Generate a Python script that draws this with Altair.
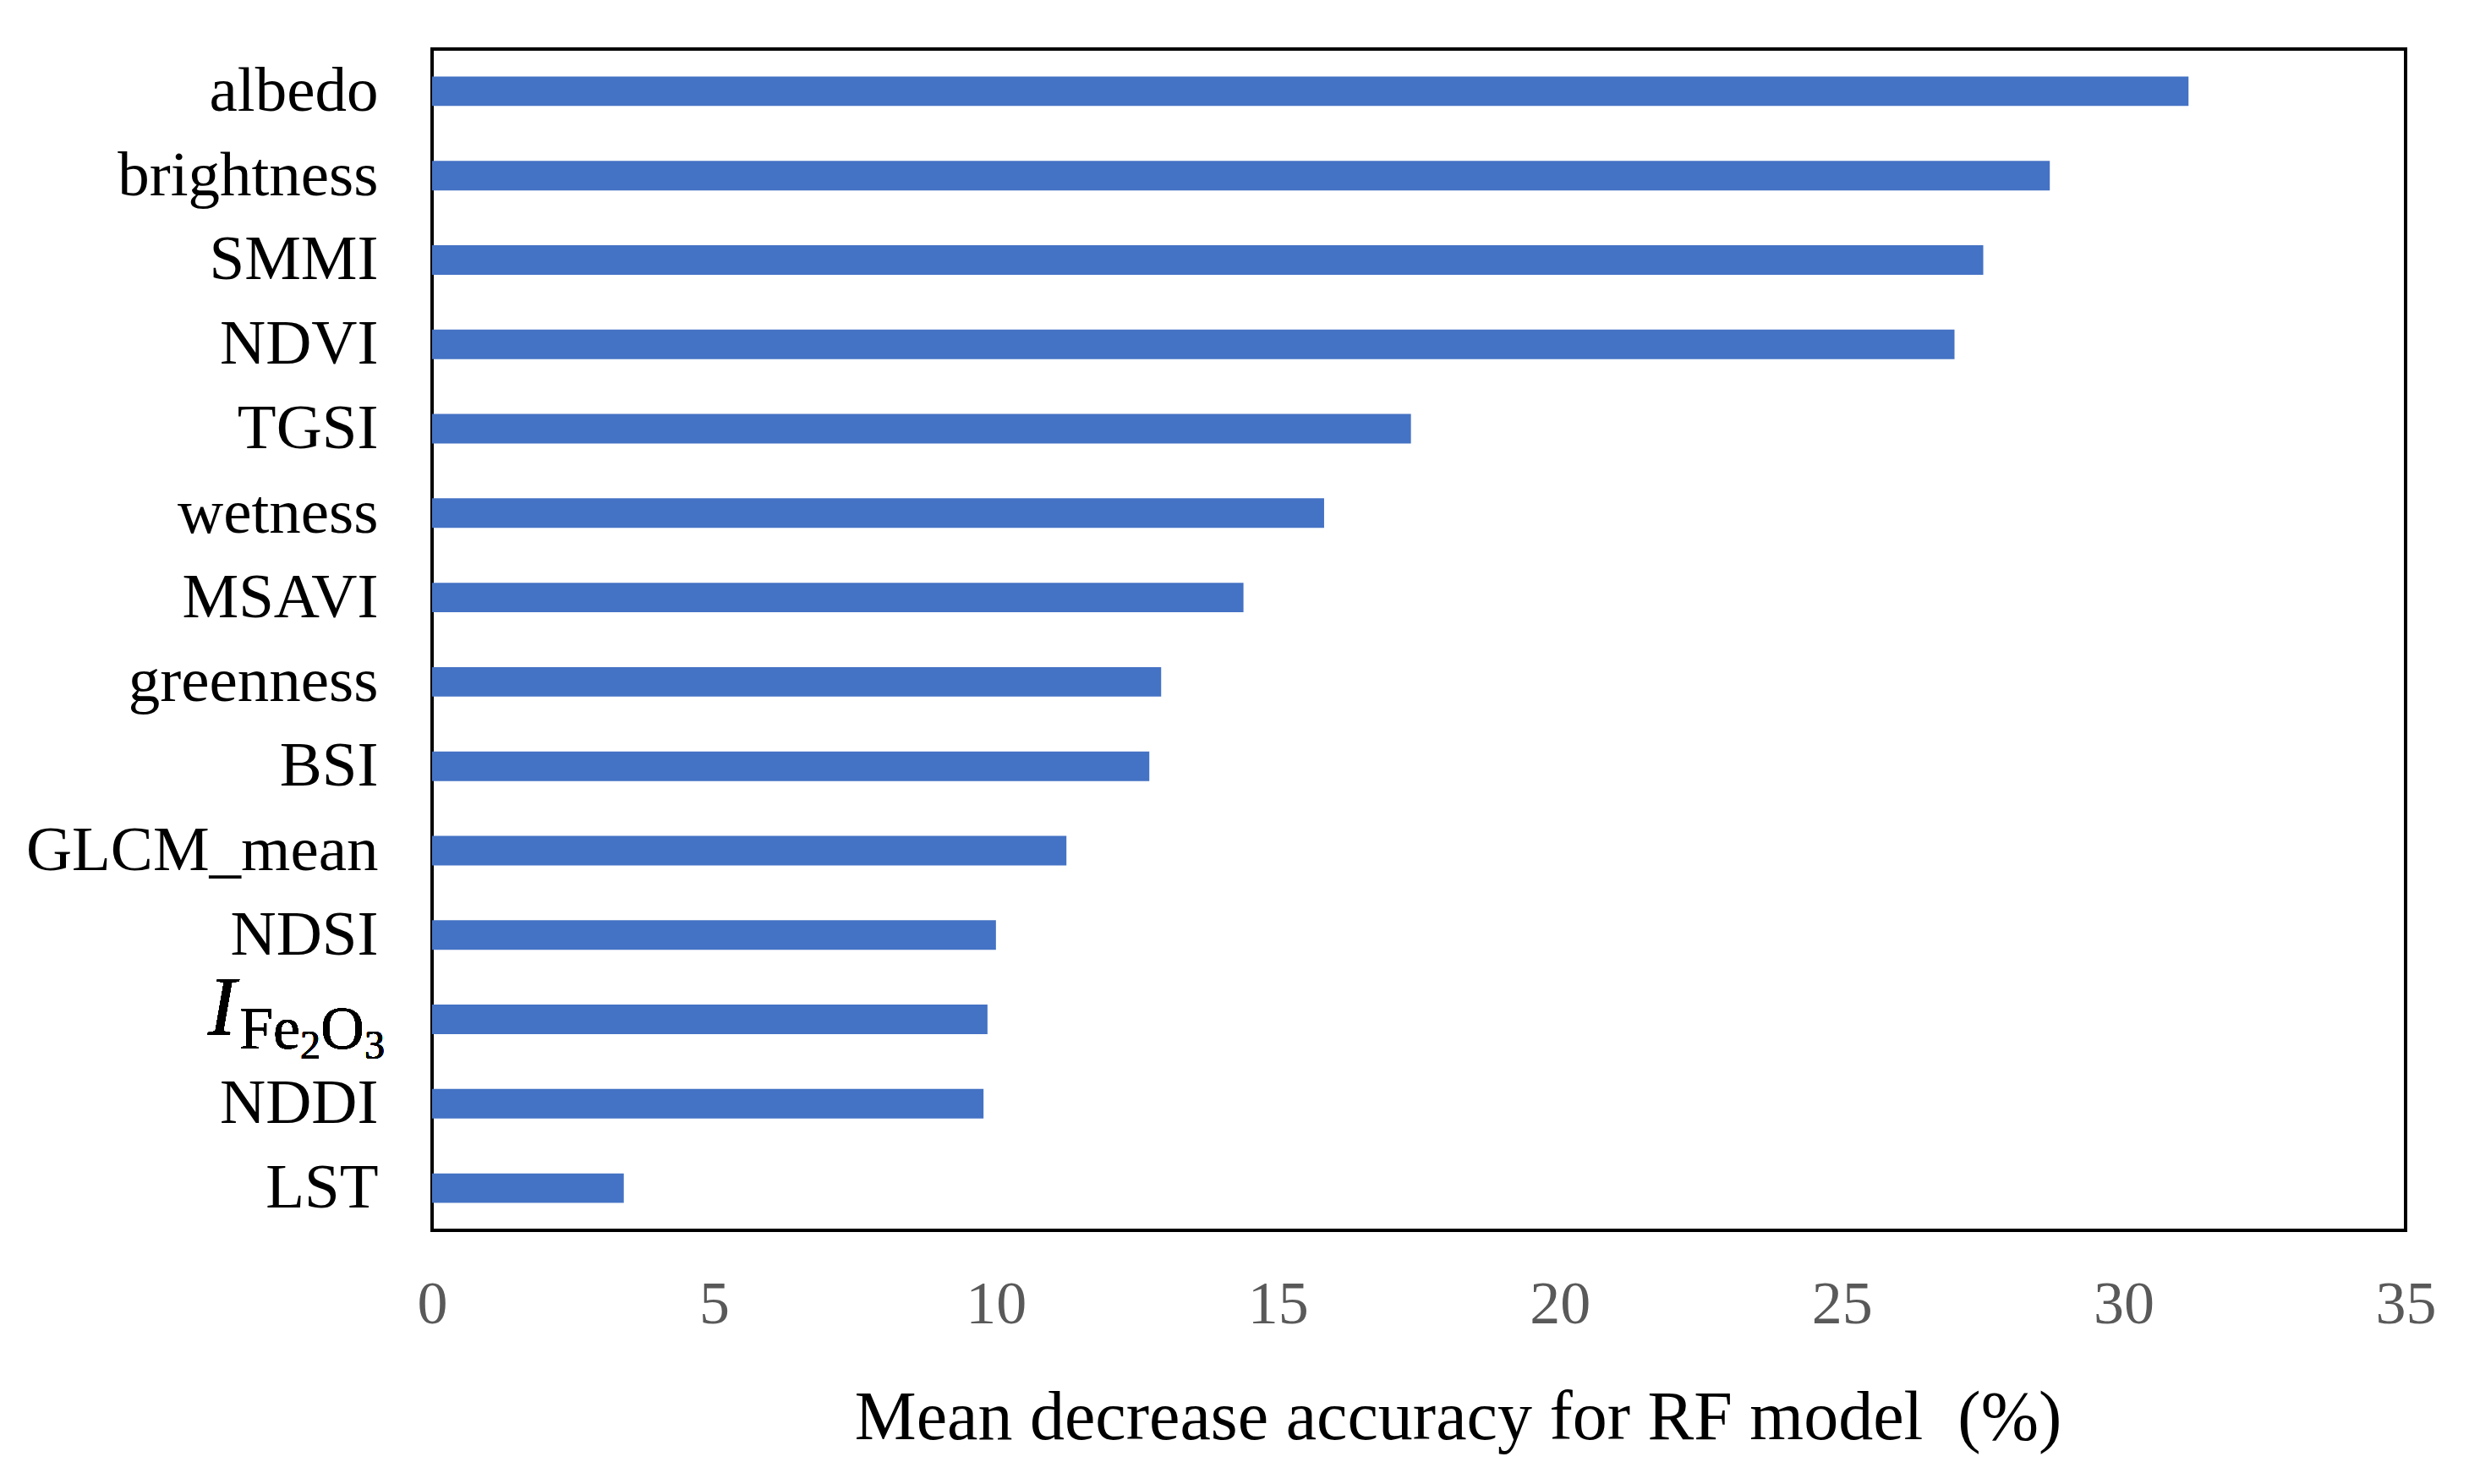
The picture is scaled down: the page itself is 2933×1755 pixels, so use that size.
import altair as alt
import pandas as pd

features = ["albedo", "brightness", "SMMI", "NDVI", "TGSI", "wetness", "MSAVI",
            "greenness", "BSI", "GLCM_mean", "NDSI", "IFe2O3", "NDDI", "LST"]
importance = [31.15, 28.69, 27.51, 27.00, 17.36, 15.82, 14.39,
              12.93, 12.72, 11.25, 10.00, 9.85, 9.78, 3.40]
x_ticks = [0, 5, 10, 15, 20, 25, 30, 35]
x_title = "Mean decrease accuracy for RF model\u00a0 (%)"
special = "IFe2O3"

df = pd.DataFrame({"feature": features, "value": importance})

FONT = "Liberation Serif"

y_enc = alt.Y(
    "feature:N",
    sort=features,
    scale=alt.Scale(paddingInner=0.65, paddingOuter=0.325),
    axis=alt.Axis(
        title=None, domain=False, ticks=False,
        labelFont=FONT, labelFontSize=75, labelColor="black",
        labelPadding=64, labelLimit=800,
        labelExpr=f"datum.value == '{special}' ? '' : datum.value",
    ),
)

x_enc = alt.X(
    "value:Q",
    scale=alt.Scale(domain=[0, 35], nice=False),
    axis=alt.Axis(
        values=x_ticks, title=x_title, grid=False, domain=False, ticks=False,
        labelFont=FONT, labelFontSize=72, labelColor="#595959", labelPadding=52,
        labelFlush=False,
        titleFont=FONT, titleFontSize=82, titleFontWeight="normal", titleColor="black",
        titleX=1213, titleY=246, titleBaseline="alphabetic", titleAlign="center",
    ),
)

bars = alt.Chart(df).mark_bar(color="#4472C4").encode(x=x_enc, y=y_enc)

def piece(text, size, xpx, dy, italic=False):
    return alt.Chart(df).mark_text(
        text=text, font=FONT, fontSize=size, align="left", baseline="alphabetic",
        dy=dy, color="black", fontStyle="italic" if italic else "normal",
    ).encode(x=alt.value(xpx), y=alt.datum(special, type="nominal"))

label_I = piece("I", 100, -265, 17, italic=True)
label_Fe = piece("Fe", 72, -228, 34)
label_2 = piece("2", 48, -156, 46)
label_O = piece("O", 72, -132, 34)
label_3 = piece("3", 48, -80, 46)

chart = alt.layer(bars, label_I, label_Fe, label_2, label_O, label_3).properties(
    width=2334, height=1397,
    autosize=alt.AutoSizeParams(type="none"),
    padding={"left": 503, "top": 50, "right": 80, "bottom": 290},
    background="white",
).configure_view(stroke="black", strokeWidth=4)

chart.save("out.html", embed_options={"renderer": "svg", "actions": False})
